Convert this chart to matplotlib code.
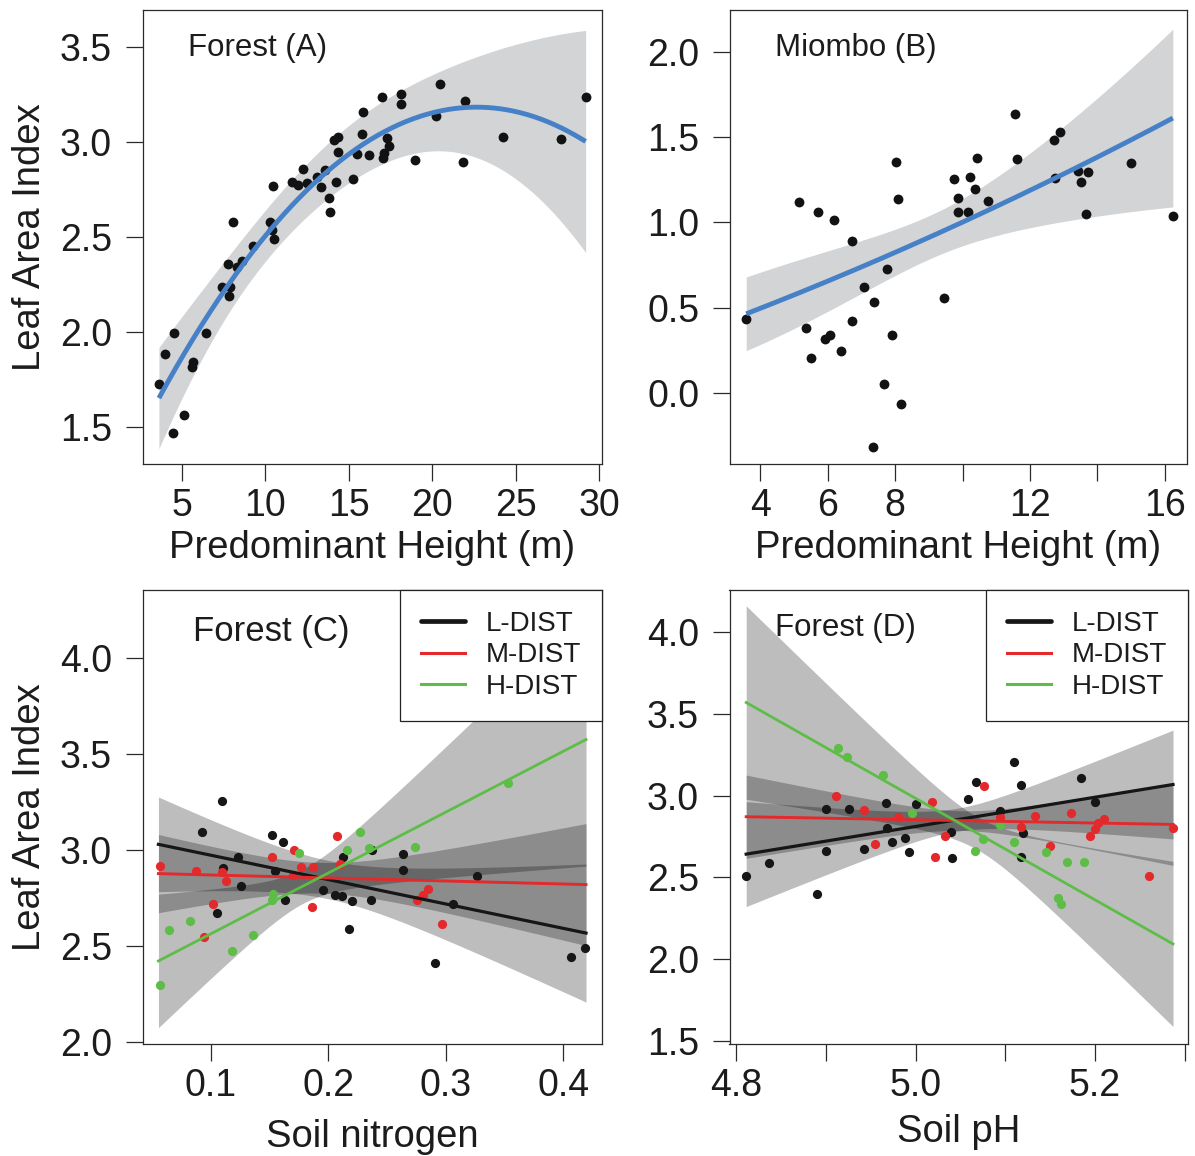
import numpy as np
import matplotlib
matplotlib.use("Agg")
import matplotlib.pyplot as plt
from matplotlib.lines import Line2D

plt.rcParams["font.family"] = ["Liberation Sans", "DejaVu Sans"]

# ---------------- data ----------------
# (A) forest plots: predominant height (m) vs leaf area index
forest_height = [3.64, 4.00, 4.56, 4.50, 5.16, 5.60, 5.70, 6.44, 7.39, 7.85, 7.89, 7.79,
                 8.29, 8.63, 8.09, 9.29, 10.28, 10.42, 10.54, 10.48, 11.62, 11.98, 12.48,
                 12.28, 13.08, 13.34, 13.57, 13.81, 13.87, 14.21, 14.13, 14.37, 14.37, 15.23,
                 15.47, 15.77, 15.83, 16.23, 16.96, 17.02, 17.10, 17.26, 17.42, 18.12, 18.12,
                 18.96, 20.21, 20.45, 21.81, 21.95, 24.24, 27.67, 29.17]
forest_lai = [1.725, 1.883, 1.995, 1.468, 1.561, 1.812, 1.839, 1.991, 2.237, 2.188, 2.237,
              2.356, 2.342, 2.374, 2.575, 2.451, 2.575, 2.535, 2.489, 2.768, 2.789, 2.772,
              2.781, 2.856, 2.812, 2.760, 2.851, 2.702, 2.628, 2.786, 3.009, 3.026, 2.944,
              2.803, 2.935, 3.040, 3.154, 2.930, 3.237, 2.912, 2.939, 3.018, 2.977, 3.249,
              3.198, 2.904, 3.135, 3.304, 2.895, 3.216, 3.026, 3.014, 3.237]
# confidence half-widths of the quadratic fit along height
forest_band_h = [3.64, 7.0, 10.0, 13.0, 16.5, 20.45, 26.4, 29.17]
forest_band_hw = [0.265, 0.17, 0.135, 0.125, 0.17, 0.21, 0.42, 0.585]

# (B) miombo plots
miombo_height = [3.58, 5.15, 5.71, 6.18, 6.73, 5.35, 5.51, 5.93, 6.08, 6.38, 6.72, 7.07,
                 7.37, 7.66, 7.33, 7.77, 7.92, 8.01, 8.07, 8.16, 9.45, 9.74, 9.87, 9.87,
                 10.15, 10.22, 10.37, 10.42, 10.76, 11.57, 11.62, 12.71, 12.89, 12.74,
                 13.44, 13.50, 13.73, 13.66, 15.00, 16.24]
miombo_lai = [0.434, 1.117, 1.063, 1.014, 0.893, 0.379, 0.207, 0.316, 0.340, 0.248, 0.422,
              0.619, 0.535, 0.051, -0.318, 0.727, 0.340, 1.355, 1.135, -0.066, 0.555, 1.252,
              1.141, 1.059, 1.063, 1.264, 1.195, 1.379, 1.127, 1.635, 1.369, 1.482, 1.527,
              1.258, 1.301, 1.234, 1.297, 1.049, 1.350, 1.037]
# fitted curve LAI = c0 + c1*h + c2*h^2 and its confidence half-widths
miombo_coef = (0.204, 0.0686, 0.00111)
miombo_band_h = [3.58, 6.0, 8.0, 10.0, 12.0, 14.0, 16.24]
miombo_band_hw = [0.217, 0.17, 0.147, 0.14, 0.21, 0.35, 0.52]

# disturbance classes
dist_labels = ["L-DIST", "M-DIST", "H-DIST"]

# (C) soil nitrogen vs LAI by disturbance class
nitro_x = {
    "L-DIST": [0.1091, 0.0921, 0.1517, 0.1610, 0.1227, 0.1105, 0.1255, 0.1048, 0.1545, 0.1630,
               0.2121, 0.1951, 0.2056, 0.2113, 0.2204, 0.2362, 0.2175, 0.2374, 0.2638, 0.2638,
               0.3262, 0.3064, 0.2907, 0.4063, 0.4185],
    "M-DIST": [0.0566, 0.0869, 0.1091, 0.1128, 0.1020, 0.0943, 0.1517, 0.1707, 0.1766, 0.1866,
               0.1695, 0.2076, 0.2098, 0.1857, 0.2751, 0.2802, 0.2851, 0.2964],
    "H-DIST": [0.0566, 0.0645, 0.0821, 0.1176, 0.1360, 0.1525, 0.1517, 0.1752, 0.2161, 0.2269,
               0.2345, 0.2737, 0.3532],
}
nitro_y = {
    "L-DIST": [3.257, 3.096, 3.078, 3.043, 2.965, 2.910, 2.812, 2.673, 2.892, 2.743, 2.965,
               2.791, 2.765, 2.760, 2.734, 2.739, 2.591, 3.000, 2.983, 2.896, 2.864, 2.722,
               2.412, 2.443, 2.492],
    "M-DIST": [2.918, 2.892, 2.887, 2.840, 2.718, 2.548, 2.965, 3.003, 2.913, 2.913, 2.870,
               3.073, 2.930, 2.704, 2.743, 2.765, 2.800, 2.614],
    "H-DIST": [2.296, 2.583, 2.630, 2.475, 2.557, 2.770, 2.743, 2.986, 3.003, 3.096, 3.012,
               3.017, 3.351],
}
nitro_range = (0.0552, 0.4194)
nitro_fit = {"L-DIST": (3.101, -1.270), "M-DIST": (2.887, -0.157), "H-DIST": (2.248, 3.170)}
# band half-widths: (left end, narrowest, right end)
nitro_band = {"L-DIST": (0.247, 0.10, 0.36), "M-DIST": (0.204, 0.08, 0.318),
              "H-DIST": (0.348, 0.09, 0.66)}

# (D) soil pH vs LAI by disturbance class
ph_x = {
    "L-DIST": [4.8112, 4.8364, 4.8903, 4.9004, 4.9004, 4.9253, 4.9420, 4.9673, 4.9684, 4.9736,
               4.9877, 4.9926, 5.0000, 5.0398, 5.0409, 5.0584, 5.0677, 5.0937, 5.1097, 5.1178,
               5.1197, 5.1171, 5.1840, 5.1996],
    "M-DIST": [4.9115, 4.9420, 4.9543, 4.9803, 5.0182, 5.0212, 5.0323, 5.0762, 5.0944, 5.1171,
               5.1327, 5.1502, 5.1736, 5.1941, 5.1996, 5.2033, 5.2097, 5.2602, 5.2870],
    "H-DIST": [4.9134, 4.9238, 4.9636, 4.9963, 5.0658, 5.0751, 5.0937, 5.1093, 5.1457, 5.1688,
               5.1874, 5.1587, 5.1625],
}
ph_y = {
    "L-DIST": [2.511, 2.590, 2.399, 2.918, 2.662, 2.918, 2.674, 2.952, 2.800, 2.714, 2.739,
               2.657, 2.946, 2.775, 2.621, 2.977, 3.085, 2.908, 3.203, 3.064, 2.773, 2.627,
               3.105, 2.958],
    "M-DIST": [2.999, 2.912, 2.704, 2.871, 2.958, 2.627, 2.753, 3.060, 2.871, 2.810, 2.875,
               2.692, 2.895, 2.755, 2.794, 2.830, 2.855, 2.509, 2.800],
    "H-DIST": [3.288, 3.237, 3.125, 2.891, 2.662, 2.733, 2.820, 2.718, 2.657, 2.596, 2.596,
               2.373, 2.336],
}
ph_range = (4.8112, 5.287)
ph_fit = {"L-DIST": (-1.654, 0.893), "M-DIST": (3.346, -0.0988), "H-DIST": (18.463, -3.096)}
ph_band = {"L-DIST": (0.32, 0.07, 0.332), "M-DIST": (0.254, 0.06, 0.25),
           "H-DIST": (0.59, 0.10, 0.504)}

# ---------------- styling ----------------
BLUE = "#4681c8"
DOT = "#121212"
TXT = "#1c1c1c"
GROUP_COL = {"L-DIST": "#161616", "M-DIST": "#e3292c", "H-DIST": "#5dbd47"}
LINE_W = {"L-DIST": 2.3, "M-DIST": 2.1, "H-DIST": 2.0}
TICK_FS = 27
LAB_FS = 27.5

fig = plt.figure(figsize=(11.95, 11.56), dpi=100)
W, H = 1195.0, 1156.0


def make_axes(x0, y0, x1, y1):
    return fig.add_axes([x0 / W, 1 - y1 / H, (x1 - x0) / W, (y1 - y0) / H])


axA = make_axes(142.7, 10, 602, 464)
axB = make_axes(729.7, 10, 1187, 464)
axC = make_axes(142.7, 590, 602, 1044)
axD = make_axes(729.5, 590, 1188, 1044)


def style(ax):
    for s in ax.spines.values():
        s.set_linewidth(0.9)
        s.set_color("#2a2a2a")
    ax.tick_params(direction="out", length=12, width=0.9, color="#2a2a2a",
                   labelsize=TICK_FS, labelcolor=TXT)
    ax.tick_params(axis="y", pad=10)
    ax.tick_params(axis="x", pad=5)


def smooth_band(xs, band_x, band_hw):
    """Half-width along xs from a quartic in x fitted to the squared half-widths."""
    poly = np.polyfit(band_x, np.square(band_hw), 4)
    return np.sqrt(np.clip(np.polyval(poly, xs), 1e-4, None))


def linear_band(xr, fit, band, n=300):
    xl, xr_ = xr
    b0, b1 = fit
    hwl, hmin, hwr = band
    a1 = np.sqrt(hwl ** 2 - hmin ** 2)
    a2 = np.sqrt(hwr ** 2 - hmin ** 2)
    L = xr_ - xl
    xc = xl + L * a1 / (a1 + a2)
    g = (a1 + a2) / L
    xs = np.linspace(xl, xr_, n)
    yhat = b0 + b1 * xs
    hw = np.sqrt(hmin ** 2 + (g * (xs - xc)) ** 2)
    return xs, yhat, hw


def panel_title(ax, text, x, y, fs):
    ax.text(x, y, text, transform=ax.transAxes, fontsize=fs, color=TXT,
            ha="left", va="center")


# ---------------- (A) ----------------
style(axA)
hA = np.linspace(min(forest_height), max(forest_height), 300)
fitA = np.polyval(np.polyfit(forest_height, forest_lai, 2), hA)
hwA = smooth_band(hA, forest_band_h, forest_band_hw)
axA.fill_between(hA, fitA - hwA, fitA + hwA, color="#d3d4d6", lw=0, zorder=1)
axA.scatter(forest_height, forest_lai, s=50, color=DOT, lw=0, zorder=3)
axA.plot(hA, fitA, color=BLUE, lw=3.5, solid_capstyle="butt", zorder=4)
axA.set_xlim(2.67, 30.15)
axA.set_ylim(1.304, 3.693)
axA.set_xticks([5, 10, 15, 20, 25, 30])
axA.set_yticks([1.5, 2.0, 2.5, 3.0, 3.5])
axA.set_yticklabels(["1.5", "2.0", "2.5", "3.0", "3.5"])
panel_title(axA, "Forest (A)", 0.099, 0.916, 22.5)
axA.set_xlabel("Predominant Height (m)", fontsize=LAB_FS, color=TXT, va="center")
axA.xaxis.set_label_coords(0.5, -0.186)
axA.set_ylabel("Leaf Area Index", fontsize=LAB_FS, color=TXT, va="center")
axA.yaxis.set_label_coords(-0.245, 0.5)

# ---------------- (B) ----------------
style(axB)
hB = np.linspace(min(miombo_height), max(miombo_height), 300)
fitB = np.polyval(miombo_coef[::-1], hB)
hwB = smooth_band(hB, miombo_band_h, miombo_band_hw)
axB.fill_between(hB, fitB - hwB, fitB + hwB, color="#d3d4d6", lw=0, zorder=1)
axB.scatter(miombo_height, miombo_lai, s=50, color=DOT, lw=0, zorder=3)
axB.plot(hB, fitB, color=BLUE, lw=3.5, solid_capstyle="butt", zorder=4)
axB.set_xlim(3.09, 16.66)
axB.set_ylim(-0.416, 2.244)
axB.set_xticks([4, 6, 8, 10, 12, 14, 16])
axB.set_xticklabels(["4", "6", "8", "", "12", "", "16"])
axB.set_yticks([0.0, 0.5, 1.0, 1.5, 2.0])
axB.set_yticklabels(["0.0", "0.5", "1.0", "1.5", "2.0"])
panel_title(axB, "Miombo (B)", 0.098, 0.916, 22.5)
axB.set_xlabel("Predominant Height (m)", fontsize=LAB_FS, color=TXT, va="center")
axB.xaxis.set_label_coords(0.5, -0.186)


# ---------------- (C) and (D) ----------------
def group_panel(ax, gx, gy, xr, fits, bands):
    style(ax)
    for g in dist_labels:
        xs, yhat, hw = linear_band(xr, fits[g], bands[g])
        ax.fill_between(xs, yhat - hw, yhat + hw, color="black", alpha=0.26, lw=0, zorder=1)
    for g in dist_labels:
        ax.scatter(gx[g], gy[g], s=44, color=GROUP_COL[g], lw=0, zorder=3)
    for g in dist_labels:
        xs, yhat, _ = linear_band(xr, fits[g], bands[g])
        ax.plot(xs, yhat, color=GROUP_COL[g], lw=LINE_W[g], zorder=4)
    handles = [Line2D([0], [0], color=GROUP_COL["L-DIST"], lw=3.4, solid_capstyle="round"),
               Line2D([0], [0], color=GROUP_COL["M-DIST"], lw=2.2),
               Line2D([0], [0], color=GROUP_COL["H-DIST"], lw=2.2)]
    leg = ax.legend(handles, dist_labels, loc="upper right", borderaxespad=0,
                    fontsize=20, frameon=True, fancybox=False, framealpha=1,
                    edgecolor="#222222", handlelength=1.6, handletextpad=0.75,
                    borderpad=0.75, labelspacing=0.2)
    leg.get_frame().set_linewidth(0.9)
    for t in leg.get_texts():
        t.set_color(TXT)
    leg.set_zorder(6)


group_panel(axC, nitro_x, nitro_y, nitro_range, nitro_fit, nitro_band)
axC.set_xlim(0.0418, 0.433)
axC.set_ylim(1.99, 4.357)
axC.set_xticks([0.1, 0.2, 0.3, 0.4])
axC.set_xticklabels(["0.1", "0.2", "0.3", "0.4"])
axC.set_yticks([2.0, 2.5, 3.0, 3.5, 4.0])
axC.set_yticklabels(["2.0", "2.5", "3.0", "3.5", "4.0"])
panel_title(axC, "Forest (C)", 0.110, 0.908, 25)
axC.set_xlabel("Soil nitrogen", fontsize=LAB_FS, color=TXT, va="center")
axC.xaxis.set_label_coords(0.5, -0.205)
axC.set_ylabel("Leaf Area Index", fontsize=LAB_FS, color=TXT, va="center")
axC.yaxis.set_label_coords(-0.245, 0.5)

group_panel(axD, ph_x, ph_y, ph_range, ph_fit, ph_band)
axD.set_xlim(4.7926, 5.3037)
axD.set_ylim(1.484, 4.254)
axD.set_xticks([4.8, 4.9, 5.0, 5.1, 5.2, 5.3])
axD.set_xticklabels(["4.8", "", "5.0", "", "5.2", ""])
axD.set_yticks([1.5, 2.0, 2.5, 3.0, 3.5, 4.0])
axD.set_yticklabels(["1.5", "2.0", "2.5", "3.0", "3.5", "4.0"])
panel_title(axD, "Forest (D)", 0.099, 0.916, 22.5)
axD.set_xlabel("Soil pH", fontsize=LAB_FS, color=TXT, va="center")
axD.xaxis.set_label_coords(0.5, -0.194)

fig.savefig("out.png", dpi=100, facecolor="white")
